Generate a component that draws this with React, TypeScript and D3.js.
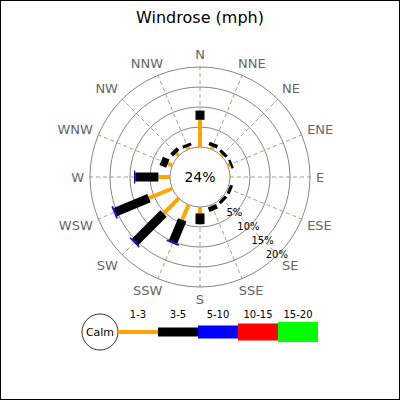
import * as d3 from 'd3';

const directions = ['N', 'NNE', 'NE', 'ENE', 'E', 'ESE', 'SE', 'SSE', 'S', 'SSW', 'SW', 'WSW', 'W', 'WNW', 'NW', 'NNW'];
const speedBins = ['1-3', '3-5', '5-10', '10-15', '15-20'];
const binColors = ['#ffa500', '#000000', '#0000ff', '#ff0000', '#00ff00'];
const binWidths = [4, 9, 13, 17, 20];

// percent of observations per direction and speed bin
const speed1to3 = [6.8, 0.7, 0.4, 0.6, 0.1, 0.2, 0.2, 0.3, 1.6, 4.1, 5.4, 6.3, 2.9, 1.2, 0.9, 0.6];
const speed3to5 = [2.3, 0.9, 0.8, 0.6, 0, 0.8, 0.8, 1.2, 2.7, 6.0, 10.0, 9.1, 5.8, 1.8, 1.0, 0.8];
const speed5to10 = [0, 0, 0, 0, 0, 0, 0, 0, 0, 0.4, 0.4, 0.4, 0.3, 0, 0, 0];
const speed10to15 = [0, 0, 0, 0, 0, 0, 0, 0, 0, 0, 0, 0, 0, 0, 0, 0];
const speed15to20 = [0, 0, 0, 0, 0, 0, 0, 0, 0, 0, 0, 0, 0, 0, 0, 0];

const ringTicks = [5, 10, 15, 20];
const calmLabel = '24%';

const W = 400;
const H = 400;
const cx = 200;
const cy = 177;
const font = '"DejaVu Sans", sans-serif';

// rough DejaVu Sans glyph widths (em) for the compass letters
const glyph: Record<string, number> = { N: 0.748, E: 0.632, S: 0.635, W: 0.989 };

export default function App() {
  const rows = directions.map((dir, i) => ({
    dir,
    '1-3': speed1to3[i],
    '3-5': speed3to5[i],
    '5-10': speed5to10[i],
    '10-15': speed10to15[i],
    '15-20': speed15to20[i],
  }));
  const series = d3.stack<any>().keys(speedBins)(rows);

  const r = d3.scaleLinear().domain([0, 20]).range([30, 110]);
  const angle = d3
    .scalePoint<string>()
    .domain(directions)
    .range([0, 2 * Math.PI - (2 * Math.PI) / 16]);

  const pt = (a: number, rad: number) => {
    const [x, y] = d3.pointRadial(a, rad);
    return [cx + x, cy + y];
  };

  const legendX = d3.scaleBand().domain(speedBins).range([118, 318]);
  const legendY = 332;

  return (
    <svg width={W} height={H} style={{ position: 'absolute', left: 0, top: 0, background: '#fff' }} fontFamily={font}>
      <rect x={0.5} y={0.5} width={W - 1} height={H - 1} fill="#fff" stroke="#000" />
      <text x={200} y={23} textAnchor="middle" fontSize={16} fill="#000">
        Windrose (mph)
      </text>

      {/* spokes */}
      {directions.map((d) => {
        const a = angle(d)!;
        const [x1, y1] = pt(a, r(0));
        const [x2, y2] = pt(a, r(20));
        return (
          <line key={d} x1={x1} y1={y1} x2={x2} y2={y2} stroke="#5f9f5f" strokeWidth={0.8} strokeDasharray="4,3" />
        );
      })}

      {/* rings */}
      {ringTicks.map((t) => (
        <circle key={t} cx={cx} cy={cy} r={r(t)} fill="none" stroke="#666" strokeWidth={0.8} />
      ))}
      <circle cx={cx} cy={cy} r={r(0)} fill="none" stroke="#666" strokeWidth={0.8} />

      {/* stacked bars */}
      {series.map((s, k) => (
        <g key={s.key}>
          {s.map((seg, i) => {
            if (seg[1] - seg[0] <= 0) return null;
            const a = angle(directions[i])!;
            const [x1, y1] = pt(a, r(seg[0]));
            const [x2, y2] = pt(a, r(seg[1]));
            return (
              <line key={i} x1={x1} y1={y1} x2={x2} y2={y2} stroke={binColors[k]} strokeWidth={binWidths[k]} />
            );
          })}
        </g>
      ))}

      <text x={cx} y={cy + 5} textAnchor="middle" fontSize={14} fill="#000">
        {calmLabel}
      </text>

      {/* ring labels */}
      {ringTicks.map((t) => {
        const [x, y] = pt((3 * Math.PI) / 4, r(t));
        return (
          <text key={t} x={x - 1} y={y + 3.5} textAnchor="middle" fontSize={10} fill="#000">
            {t}%
          </text>
        );
      })}

      {/* compass labels */}
      {directions.map((d) => {
        const a = angle(d)!;
        const [px, py] = pt(a, 116);
        const w = d.split('').reduce((acc, c) => acc + glyph[c] * 13, 0);
        const k = Math.SQRT2;
        const sx = Math.max(-1, Math.min(1, Math.sin(a) * k));
        const sy = Math.max(-1, Math.min(1, Math.cos(a) * k));
        const x = px + (w / 2) * sx;
        const y = py - 6.5 * sy;
        return (
          <text key={d} x={x} y={y + 4.7} textAnchor="middle" fontSize={13} fill="#666">
            {d}
          </text>
        );
      })}

      {/* legend */}
      <circle cx={100} cy={legendY} r={18} fill="#fff" stroke="#000" strokeWidth={0.8} />
      <text x={100} y={legendY + 4} textAnchor="middle" fontSize={11} fill="#000">
        Calm
      </text>
      {speedBins.map((b, k) => (
        <g key={b}>
          <rect
            x={legendX(b)!}
            y={legendY - binWidths[k] / 2}
            width={legendX.bandwidth()}
            height={binWidths[k]}
            fill={binColors[k]}
          />
          <text x={legendX(b)! + legendX.bandwidth() / 2} y={317.5} textAnchor="middle" fontSize={10} fill="#000">
            {b}
          </text>
        </g>
      ))}
    </svg>
  );
}
